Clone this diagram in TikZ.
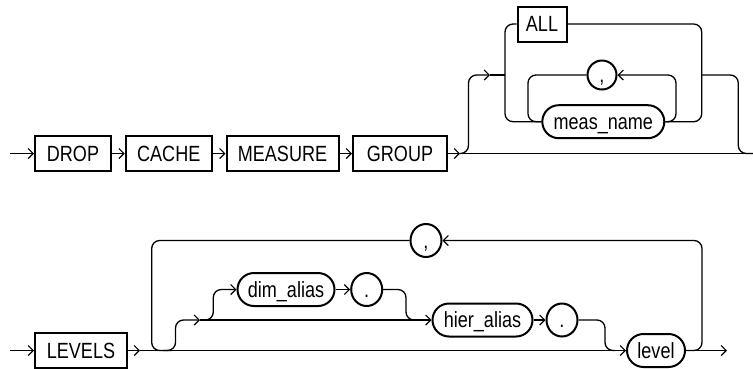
\documentclass[tikz,border=0pt]{standalone}
\usepackage{fontspec}
\setmainfont{Liberation Sans}[FakeStretch=0.82]
\usetikzlibrary{arrows.meta,shapes.geometric,shapes.misc}
\begin{document}
\begin{tikzpicture}[x=1pt,y=-1pt,
  line width=1.3pt,
  every node/.style={font=\fontsize{22}{26}\selectfont, inner sep=0pt, text height=15.5pt, text depth=0pt},
  arr/.style={-{Straight Barb[length=5pt,width=10pt,line width=1.2pt]}},
  kw/.style={draw,line width=2pt,rectangle,minimum height=35pt},
  term/.style={draw,line width=2pt,rounded rectangle,minimum height=33pt},
  sym/.style={draw,line width=2pt,ellipse,minimum width=31pt,minimum height=33pt},
  rc/.style={rounded corners=8pt}
]
\useasboundingbox (0,0) rectangle (753,368);

% ---------- row 1 ----------
\coordinate (s1) at (10,153.5);
\node[kw,minimum width=76pt] (drop) at (73,153.5) {DROP};
\node[kw,minimum width=86pt] (cache) at (168.75,153.5) {CACHE};
\node[kw,minimum width=112pt] (measure) at (282.5,153.5) {MEASURE};
\node[kw,minimum width=94pt] (group) at (400,153.5) {GROUP};
\node[kw,minimum width=49pt] (all) at (542,24) {ALL};
\node[sym,minimum width=29pt,minimum height=29pt] (c1) at (602,75) {,};
\node[term,minimum width=122pt] (meas) at (603.3,121.7) {meas\_name};

\draw[arr] (s1) -- (drop.west);
\draw[arr] (drop.east) -- (cache.west);
\draw[arr] (cache.east) -- (measure.west);
\draw[arr] (measure.east) -- (group.west);

\coordinate (g1) at (460,153.5);
\coordinate (e1) at (753,153.5);
\draw[arr] (group.east) -- (g1);
\draw (g1) -- (e1);
\coordinate (u1) at (490,75);
\draw[arr,rc] (g1) -- (468.5,153.5) -- (468.5,75) -- (u1);
\draw (u1) -- (505,75);
\draw[rc] (all.west) -- (505,24) -- (505,121.7) -- (meas.west);
\draw[rc] (c1.west) -- (528,75) -- (528,121.7) -- (meas.west);
\draw[rc,arr] (meas.east) -- (676,121.7) -- (676,75) -- (c1.east);
\draw[rc] (all.east) -- (701.7,24) -- (701.7,121.7) -- (meas.east);
\draw[rc] (701.7,75) -- (738.3,75) -- (738.3,153.5) -- (e1);

% ---------- row 2 ----------
\coordinate (s2) at (10,350.5);
\node[kw,minimum width=92pt] (levels) at (81,350.5) {LEVELS};
\node[term,minimum width=58pt] (level) at (656,350.5) {level};
\node[sym] (c2) at (426,240.5) {,};
\node[term,minimum width=97pt] (dim) at (286,289.5) {dim\_alias};
\node[sym] (d1) at (366.7,289.5) {.};
\node[term,minimum width=100pt] (hier) at (482.5,320) {hier\_alias};
\node[sym] (d2) at (562,320) {.};

\draw[arr] (s2) -- (levels.west);
\coordinate (l1) at (140,350.5);
\coordinate (e2) at (727,350.5);
\draw[arr] (levels.east) -- (l1);
\draw[arr] (l1) -- (level.west);
\draw[arr] (level.east) -- (e2);

% repeat loop
\draw[rc,arr] (level.east) -- (702,350.5) -- (702,240.5) -- (c2.east);
\draw[rc] (c2.west) -- (151.7,240.5) -- (151.7,350.5) -- (172,350.5);

% optional dim_alias / hier_alias
\coordinate (b1) at (200,320);
\draw[rc,arr] (163,350.5) -- (175.5,350.5) -- (175.5,320) -- (b1);
\draw[rc,arr] (203,320) -- (213.3,320) -- (213.3,289.5) -- (dim.west);
\draw[arr] (dim.east) -- (d1.west);
\draw[arr] (b1) -- (hier.west);
\draw[rc] (d1.east) -- (406,289.5) -- (406,320) -- (420,320);
\draw[arr] (hier.east) -- (d2.west);
\draw[rc] (d2.east) -- (605,320) -- (605,350.5) -- (615,350.5);
\end{tikzpicture}
\end{document}
